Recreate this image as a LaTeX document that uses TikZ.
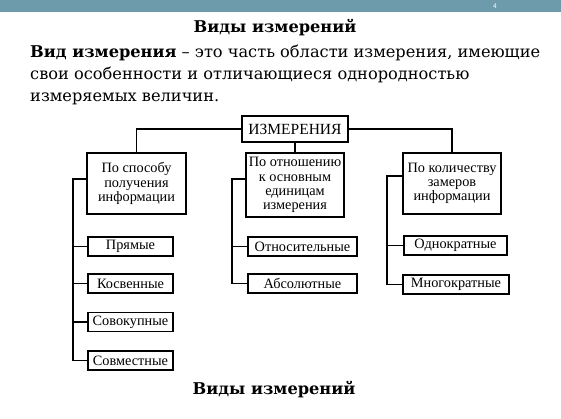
\documentclass[tikz,border=0pt]{standalone}
\usepackage{fontspec}
\setmainfont{DejaVu Serif}
\newfontfamily\tnr{Liberation Serif}
\definecolor{barcol}{HTML}{6E9BAB}
\begin{document}
\begin{tikzpicture}[x=1pt,y=-1pt,
  box/.style={draw, line width=1.8pt, inner sep=0pt, align=center,
    font=\tnr\fontsize{14.3}{14.3}\selectfont},
  leaf/.style={box, minimum height=19pt},
  wire/.style={line width=1.8pt},
  para/.style={anchor=base west, inner sep=0pt, font=\fontsize{16.2}{20}\selectfont},
  head/.style={anchor=base, inner sep=0pt, font=\bfseries\fontsize{16.2}{20}\selectfont}]
\useasboundingbox (0,0) rectangle (561,419);
\fill[barcol] (0,0) rectangle (561,12);
\node[text=white, inner sep=0pt, anchor=base, font=\sffamily\fontsize{7}{7}\selectfont] (pg) at (495,9) {4};
\node[head] (title) at (275,33) {Виды измерений};
\node[para] (p1) at (30,58) {\textbf{Вид измерения} – это часть области измерения, имеющие};
\node[para] (p2) at (30,80) {свои особенности и отличающиеся однородностью};
\node[para] (p3) at (30,102) {измеряемых величин.};
% diagram
\node[box, minimum width=106pt, minimum height=26pt, font=\tnr\fontsize{15.5}{16}\selectfont] (root) at (295,129) {ИЗМЕРЕНИЯ};
\node[box, minimum width=99pt, minimum height=61pt] (b1) at (136.5,183.5) {По способу\\получения\\информации};
\node[box, minimum width=98pt, minimum height=64pt] (b2) at (295,185) {По отношению\\к основным\\единицам\\измерения};
\node[box, minimum width=98pt, minimum height=61pt] (b3) at (452,183.5) {По количеству\\замеров\\информации};
\node[leaf, minimum width=85pt] (l1) at (130.5,246.5) {Прямые};
\node[leaf, minimum width=85pt] (l2) at (130.5,283.5) {Косвенные};
\node[leaf, minimum width=85pt] (l3) at (130.5,322) {Совокупные};
\node[leaf, minimum width=85pt] (l4) at (130.5,360.5) {Совместные};
\node[leaf, minimum width=109pt] (m1) at (302.5,246.5) {Относительные};
\node[leaf, minimum width=109pt] (m2) at (302.5,283.5) {Абсолютные};
\node[leaf, minimum width=103pt] (r1) at (455.5,245.5) {Однократные};
\node[leaf, minimum width=106pt] (r2) at (456,284.5) {Многократные};
\node[head] (cap) at (274,394) {Виды измерений};
% connectors
\coordinate (sl) at (73,179);
\coordinate (sm) at (232,179);
\coordinate (sr) at (387,176);
\draw[wire] (root.west) -| (b1.north);
\draw[wire] (root.east) -| (b3.north);
\draw[wire] (root.south) -- (b2.north);
\draw[wire] (b1.west |- sl) -- (sl) |- (l4.west);
\draw[wire] (sl |- l1.west) -- (l1.west);
\draw[wire] (sl |- l2.west) -- (l2.west);
\draw[wire] (sl |- l3.west) -- (l3.west);
\draw[wire] (b2.west |- sm) -- (sm) |- (m2.west);
\draw[wire] (sm |- m1.west) -- (m1.west);
\draw[wire] (b3.west |- sr) -- (sr) |- (r2.west);
\draw[wire] (sr |- r1.west) -- (r1.west);
\end{tikzpicture}
\end{document}
